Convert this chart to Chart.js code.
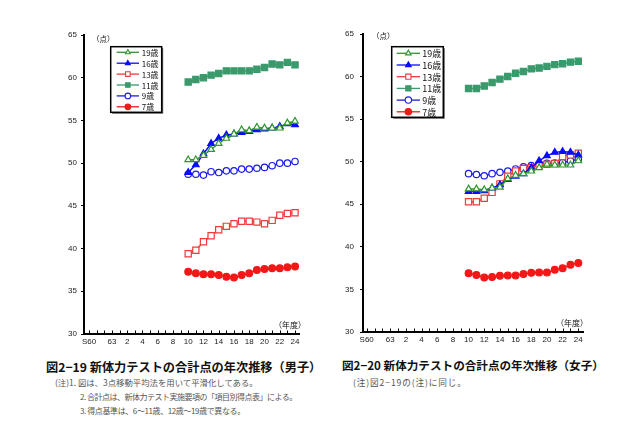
<!DOCTYPE html>
<html><head><meta charset="utf-8">
<script src="https://cdn.jsdelivr.net/npm/chart.js@4"></script>
<style>
html,body{margin:0;padding:0;background:#fff;width:640px;height:426px;overflow:hidden;}
.t{position:absolute;white-space:nowrap;line-height:1;font-family:"Noto Sans CJK JP","Noto Sans",sans-serif;color:#111;}
.box{position:absolute;}
.n{color:#555;font-size:8px;}
</style></head><body>
<div class="box" style="left:40px;top:20px;width:270px;height:330px"><canvas id="cL"></canvas></div>
<div class="box" style="left:335px;top:20px;width:258px;height:328px"><canvas id="cR"></canvas></div>

<div class="t" style="left:92px;top:35px;font-size:7.5px">（点）</div>
<div class="t" style="left:372px;top:32px;font-size:7.5px">（点）</div>
<div class="t" style="left:274px;top:321px;font-size:8px">（年度）</div>
<div class="t" style="left:556px;top:319px;font-size:8px">（年度）</div>

<div class="t" style="left:46px;top:361px;font-size:12.2px;font-weight:bold">図2−19&nbsp;新体力テストの合計点の年次推移（男子）</div>
<div class="t" style="left:342px;top:360px;font-size:11.6px;font-weight:bold">図2−20&nbsp;新体力テストの合計点の年次推移（女子）</div>
<div class="t n" style="left:55px;top:378px;font-size:8.4px">(注)1. 図は、3点移動平均法を用いて平滑化してある。</div>
<div class="t n" style="left:80px;top:393px;letter-spacing:-0.5px">2. 合計点は、新体力テスト実施要項の「項目別得点表」による。</div>
<div class="t n" style="left:80px;top:407px;letter-spacing:-0.4px">3. 得点基準は、6〜11歳、12歳〜19歳で異なる。</div>
<div class="t n" style="left:353px;top:378px;font-size:8.6px;letter-spacing:0.9px">(注)図2−19の(注)に同じ。</div>

<script>
// ---- data ----
const categories = ['S60','S61','S62','S63','H1','H2','H3','H4','H5','H6','H7','H8','H9','H10','H11','H12','H13','H14','H15','H16','H17','H18','H19','H20','H21','H22','H23','H24'];
const tickLabels = ['S60','','','63','','2','','4','','6','','8','','10','','12','','14','','16','','18','','20','','22','','24'];
const dataYears = ['H10','H11','H12','H13','H14','H15','H16','H17','H18','H19','H20','H21','H22','H23','H24'];
const seriesLabels = ['19歳','16歳','13歳','11歳','9歳','7歳'];
const yTicks = [30,35,40,45,50,55,60,65];

const male19 = [50.4,50.4,50.9,51.6,52.3,52.9,53.4,53.9,53.8,54.2,54.1,54.1,54.1,54.7,54.9];
const male16 = [48.9,49.8,51.1,52.3,52.9,53.3,53.4,53.6,53.7,53.9,54.0,54.1,54.3,54.6,54.5];
const male13 = [39.4,39.8,40.8,41.5,42.2,42.6,42.9,43.2,43.2,43.1,42.9,43.3,43.9,44.1,44.2];
const male11 = [59.5,59.8,60.0,60.3,60.5,60.8,60.8,60.8,60.8,61.0,61.2,61.6,61.5,61.8,61.5];
const male9  = [48.7,48.7,48.6,49.0,48.9,49.1,49.1,49.3,49.3,49.4,49.5,49.7,50.0,50.0,50.2];
const male7  = [37.3,37.1,37.0,37.0,36.9,36.7,36.6,36.9,37.1,37.5,37.6,37.7,37.7,37.8,37.9];

const female19 = [46.8,46.8,46.7,46.9,47.0,48.0,48.4,48.6,48.9,49.3,49.7,49.6,49.6,49.6,50.1];
const female16 = [46.5,46.5,46.6,46.9,47.3,47.9,48.3,48.6,49.3,50.1,50.7,51.1,51.2,51.1,50.8];
const female13 = [45.3,45.3,45.7,46.4,47.4,48.3,48.9,49.2,49.3,49.6,49.7,49.8,50.6,50.8,51.0];
const female11 = [58.6,58.6,58.9,59.3,59.7,60.0,60.4,60.6,60.9,61.0,61.2,61.4,61.5,61.7,61.8];
const female9  = [48.6,48.5,48.35,48.6,48.75,48.9,49.15,49.4,49.55,49.7,49.8,49.85,49.9,50.1,50.3];
const female7  = [36.9,36.7,36.4,36.45,36.6,36.65,36.65,36.8,36.95,37.0,37.0,37.3,37.5,37.9,38.1];

// ---- styles ----
const seriesStyles = [
  {color:'#2e962e', point:'triangle', open:true,  r:3.8},
  {color:'#0a0aff', point:'triangle', open:false, r:3.8},
  {color:'#f03a3a', point:'rect',     open:true,  r:4.4},
  {color:'#3a9a6c', point:'rect',     open:false, r:4.4},
  {color:'#1a1aee', point:'circle',   open:true,  r:3.2},
  {color:'#f21818', point:'circle',   open:false, r:3.4}
];

function points(vals){ return vals.map((v,i)=>({x:categories.indexOf(dataYears[i]), y:v})); }

function buildDatasets(list){
  return list.map((vals,i)=>{
    const s = seriesStyles[i];
    return {
      label: seriesLabels[i], data: points(vals),
      borderColor: s.color, backgroundColor: s.color, borderWidth: 1.4,
      pointStyle: s.point, pointRadius: s.r, pointHoverRadius: s.r,
      pointBackgroundColor: s.open ? '#fff' : s.color, pointBorderColor: s.color,
      pointBorderWidth: 1.2, tension: 0, fill: false
    };
  });
}

const innerTicks = {
  id:'innerTicks',
  afterDraw(chart){
    const x = chart.scales.x, ctx = chart.ctx, y0 = chart.chartArea.bottom;
    ctx.save(); ctx.strokeStyle='#000'; ctx.lineWidth=1;
    categories.forEach((c,i)=>{
      const px = Math.round(x.getPixelForValue(i))+0.5;
      ctx.beginPath(); ctx.moveTo(px,y0); ctx.lineTo(px,y0-3.5); ctx.stroke();
    });
    ctx.restore();
  }
};

const boxLegend = {
  id:'boxLegend',
  afterDraw(chart, args, o){
    const ctx = chart.ctx;
    ctx.save();
    ctx.fillStyle='#666'; ctx.fillRect(o.x+1.5,o.y+1.5,o.w,o.h);
    ctx.fillStyle='#fff'; ctx.fillRect(o.x,o.y,o.w,o.h);
    ctx.strokeStyle='#000'; ctx.lineWidth=1.5; ctx.strokeRect(o.x,o.y,o.w,o.h);
    chart.data.datasets.forEach((ds,i)=>{
      const cy = o.y + o.first + i*o.step;
      ctx.strokeStyle = ds.borderColor; ctx.lineWidth = 1.3;
      ctx.beginPath(); ctx.moveTo(o.lx0,cy); ctx.lineTo(o.lx1,cy); ctx.stroke();
      ctx.fillStyle = ds.pointBackgroundColor; ctx.strokeStyle = ds.borderColor; ctx.lineWidth = 1.1;
      Chart.helpers.drawPoint(ctx,{pointStyle:ds.pointStyle, radius:o.r*(ds.pointStyle==='rect'?1.15:1), rotation:0, borderWidth:1.1},(o.lx0+o.lx1)/2,cy);
      ctx.fillStyle='#111'; ctx.font = o.font + 'px "Noto Sans CJK JP", sans-serif';
      ctx.textBaseline='middle'; ctx.textAlign='left';
      ctx.fillText(ds.label, o.tx, cy+0.5);
    });
    ctx.restore();
  }
};

function makeChart(id, lists, g){
  return new Chart(document.getElementById(id), {
    type:'line',
    data:{datasets: buildDatasets(lists)},
    options:{
      responsive:true, maintainAspectRatio:false, animation:false,
      layout:{padding:{top:g.padTop, right:g.padRight, left:0, bottom:0}},
      plugins:{legend:{display:false}, tooltip:{enabled:false}, boxLegend:g.legend},
      scales:{
        x:{type:'linear', min:g.xmin, max:g.xmax,
          afterBuildTicks:s=>{ s.ticks = categories.map((c,i)=>({value:i})); },
          afterFit:s=>{ s.height = 16; },
          ticks:{autoSkip:false, maxRotation:0, padding:3, color:'#222', font:{size:8, family:'Liberation Sans, Arial'},
            callback:(v)=>tickLabels[v] ?? ''},
          grid:{display:false, drawTicks:false},
          border:{display:true, color:'#000', width:2}
        },
        y:{min:30, max:65,
          afterBuildTicks:s=>{ s.ticks = yTicks.map(v=>({value:v})); },
          afterFit:s=>{ s.width = g.yw; },
          ticks:{padding:g.ypad, color:'#222', font:{size:8, family:'Liberation Sans, Arial'}},
          grid:{display:true, drawOnChartArea:false, drawTicks:true, tickLength:3, color:'#000', lineWidth:1},
          border:{display:true, color:'#000', width:2}
        }
      }
    },
    plugins:[innerTicks, boxLegend]
  });
}

makeChart('cL', [male19,male16,male13,male11,male9,male7], {
  padTop:15, padRight:11, yw:44, ypad:4, xmin:-0.655, xmax:27.52,
  legend:{x:70.7, y:26.7, w:51, h:65.6, first:5.6, step:10.9, lx0:76.7, lx1:99, tx:101.7, r:2.8, font:8}
});
makeChart('cR', [female19,female16,female13,female11,female9,female7], {
  padTop:14, padRight:10, yw:28, ypad:6, xmin:-0.47, xmax:27.6,
  legend:{x:56.7, y:26.7, w:51.6, h:70.6, first:6.6, step:11.7, lx0:61.7, lx1:85, tx:87.3, r:3.2, font:9}
});
</script>
</body></html>
